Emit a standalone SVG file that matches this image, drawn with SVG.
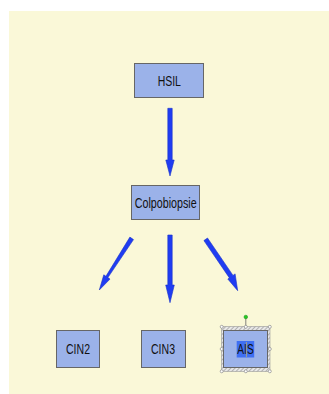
<svg xmlns="http://www.w3.org/2000/svg" width="329" height="394" viewBox="0 0 329 394">
  <style>
    .box { fill: #9bb2e9; stroke: #666666; stroke-width: 1; }
    .lbl { font-family: "Liberation Sans", Arial, sans-serif; font-size: 14px; fill: #111111; text-anchor: middle; }
    .arrow { fill: #1f3cf2; stroke: #1a33c8; stroke-width: 0.6; }
    .handle { fill: #ffffff; stroke: #888888; stroke-width: 0.7; }
  </style>
  <defs>
    <pattern id="hatch" width="3" height="3" patternUnits="userSpaceOnUse" patternTransform="rotate(45)">
      <rect width="3" height="3" fill="#e8e8e8"/>
      <line x1="0" y1="0" x2="0" y2="3" stroke="#8a8a8a" stroke-width="1.2"/>
    </pattern>
  </defs>

  <rect x="0" y="0" width="329" height="394" fill="#ffffff"/>
  <rect x="9" y="11" width="320" height="383" fill="#faf8d8"/>

  <g id="connectors">
    <!-- HSIL to Colpobiopsie -->
    <polygon class="arrow" points="167.8,108.3 172.2,108.3 172.2,160 174.2,160 170,176 165.8,160 167.8,160"/>
    <!-- Colpobiopsie to CIN3 -->
    <polygon class="arrow" points="167.8,235 172.2,235 172.2,285 174.3,285 170,302.7 165.7,285 167.8,285"/>
    <!-- Colpobiopsie to CIN2 -->
    <polygon class="arrow" points="129.9,237.1 133.5,239.6 107.9,277.6 110.0,279.1 99.3,290 103.8,274.8 105.9,276.3"/>
    <!-- Colpobiopsie to AIS -->
    <polygon class="arrow" points="203.9,240.6 207.5,238.0 233.0,275.4 235.1,273.9 237.7,290.7 227.8,279.0 229.4,277.9"/>
  </g>

  <g id="node-hsil">
    <rect class="box" x="134.5" y="63.5" width="69" height="34"/>
    <text class="lbl" x="169.3" y="86" textLength="23.3" lengthAdjust="spacingAndGlyphs">HSIL</text>
  </g>

  <g id="node-colpobiopsie">
    <rect class="box" x="131.5" y="185.5" width="68" height="34"/>
    <text class="lbl" x="165.7" y="208.3" textLength="62" lengthAdjust="spacingAndGlyphs">Colpobiopsie</text>
  </g>

  <g id="node-cin2">
    <rect class="box" x="56.5" y="330.5" width="43" height="37"/>
    <text class="lbl" x="78" y="354.3" textLength="24" lengthAdjust="spacingAndGlyphs">CIN2</text>
  </g>

  <g id="node-cin3">
    <rect class="box" x="141.5" y="330.5" width="44" height="37"/>
    <text class="lbl" x="163" y="354.3" textLength="24" lengthAdjust="spacingAndGlyphs">CIN3</text>
  </g>

  <g id="node-ais">
    <!-- selection frame with hatched border -->
    <rect x="221.5" y="326.5" width="48.5" height="45" fill="url(#hatch)" stroke="#999999" stroke-width="0.6"/>
    <line x1="245.8" y1="317" x2="245.8" y2="326.5" stroke="#666666" stroke-width="0.8"/>
    <circle cx="245.8" cy="317" r="1.8" fill="#22cc22" stroke="#118811" stroke-width="0.5"/>
    <rect class="box" x="223.5" y="330.5" width="44" height="37"/>
    <rect x="236.7" y="341" width="17.5" height="16.5" fill="#3f6ff2"/>
    <text class="lbl" x="245.5" y="354.3" textLength="16.4" lengthAdjust="spacingAndGlyphs">AIS</text>
    <!-- text caret -->
    <line x1="246.4" y1="342" x2="246.4" y2="357" stroke="#b8b070" stroke-width="0.8"/>
    <circle class="handle" cx="221.7" cy="326.8" r="1.5"/>
    <circle class="handle" cx="245.8" cy="326.8" r="1.5"/>
    <circle class="handle" cx="269.8" cy="326.8" r="1.5"/>
    <circle class="handle" cx="221.7" cy="349" r="1.5"/>
    <circle class="handle" cx="269.8" cy="349" r="1.5"/>
    <circle class="handle" cx="221.7" cy="371.3" r="1.5"/>
    <circle class="handle" cx="245.8" cy="371.3" r="1.5"/>
    <circle class="handle" cx="269.8" cy="371.3" r="1.5"/>
  </g>
</svg>
